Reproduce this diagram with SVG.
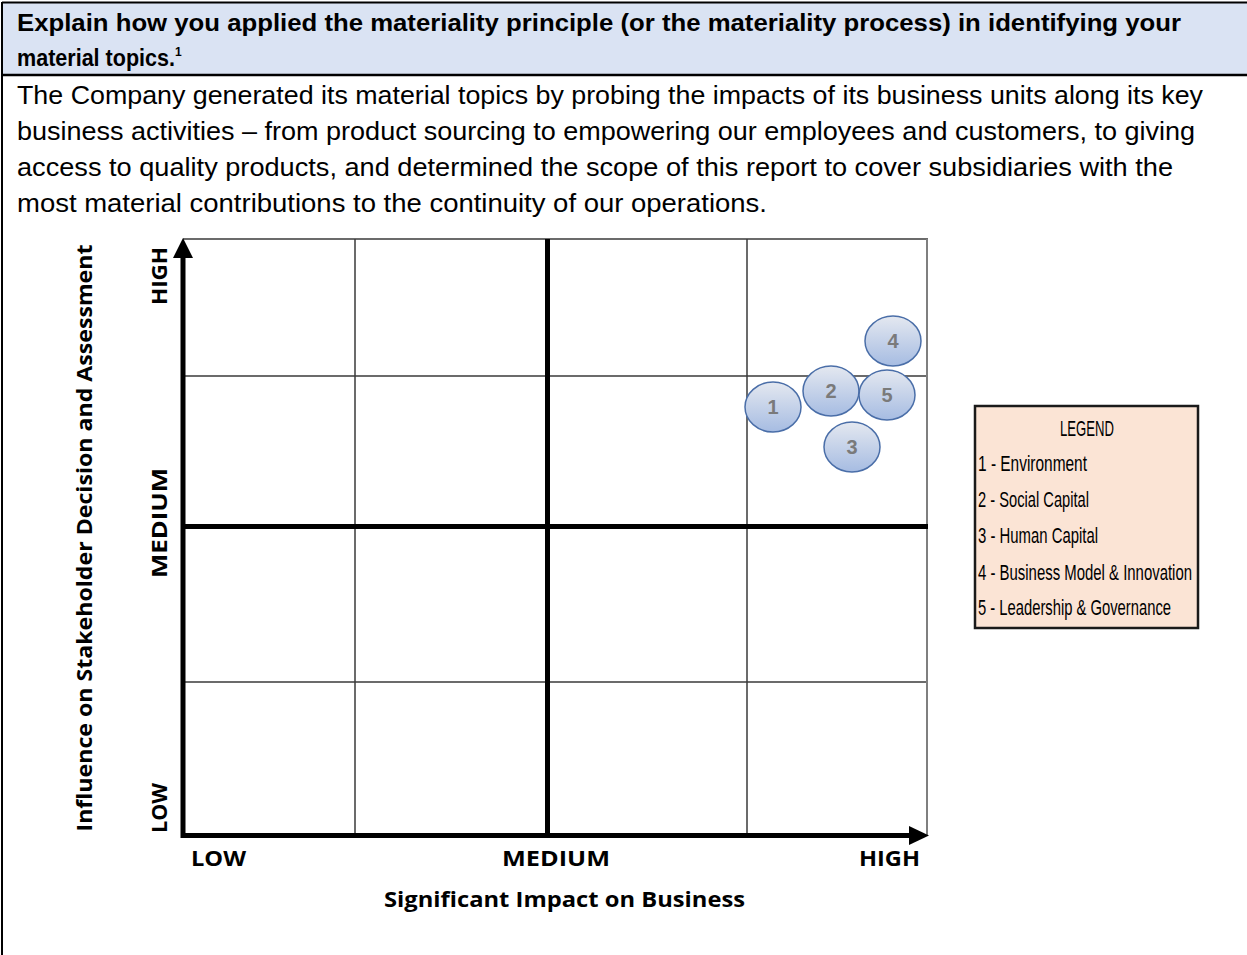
<svg xmlns="http://www.w3.org/2000/svg" width="1247" height="955" viewBox="0 0 1247 955">
<style>
.hdr{font-family:"Liberation Sans",Arial,sans-serif;font-weight:bold;font-size:24px;fill:#000}
.body{font-family:"Liberation Sans",Arial,sans-serif;font-size:25px;fill:#000}
.ax{font-family:"Open Sans","Liberation Sans",sans-serif;font-weight:bold;font-size:21px;fill:#000}
.grid{stroke:#3a3a3a;stroke-width:1.5;fill:none}
.thick{stroke:#000;stroke-width:5;fill:none}
.bub{stroke:#4a6ea8;stroke-width:1.5;fill:url(#bg)}
.num{font-family:"Liberation Sans",Arial,sans-serif;font-weight:bold;font-size:20px;fill:#7a7a7a;text-anchor:middle}
.leg{font-family:"Liberation Sans",Arial,sans-serif;font-size:22px;fill:#000}
</style>
<defs>
<linearGradient id="bg" x1="0" y1="0" x2="0" y2="1">
<stop offset="0" stop-color="#e4e8f0"/>
<stop offset="1" stop-color="#a6bce2"/>
</linearGradient>
</defs>
<rect width="1247" height="955" fill="#fff"/>
<g id="header">
<rect x="2" y="2" width="1246" height="72" fill="#dae3f3"/>
<line x1="2" y1="2.5" x2="1247" y2="2.5" stroke="#000" stroke-width="2"/>
<line x1="2" y1="75" x2="1247" y2="75" stroke="#000" stroke-width="2.5"/>
<line x1="2" y1="2" x2="2" y2="955" stroke="#000" stroke-width="2"/>
<text class="hdr" x="17" y="31" textLength="1164" lengthAdjust="spacingAndGlyphs">Explain how you applied the materiality principle (or the materiality process) in identifying your</text>
<text class="hdr" x="17" y="66"><tspan textLength="158" lengthAdjust="spacingAndGlyphs">material topics.</tspan><tspan font-size="12" dy="-10">1</tspan></text>
</g>
<g id="body">
<text class="body" x="17" y="104" textLength="1186" lengthAdjust="spacingAndGlyphs">The Company generated its material topics by probing the impacts of its business units along its key</text>
<text class="body" x="17" y="140" textLength="1178" lengthAdjust="spacingAndGlyphs">business activities – from product sourcing to empowering our employees and customers, to giving</text>
<text class="body" x="17" y="176" textLength="1156" lengthAdjust="spacingAndGlyphs">access to quality products, and determined the scope of this report to cover subsidiaries with the</text>
<text class="body" x="17" y="212" textLength="750" lengthAdjust="spacingAndGlyphs">most material contributions to the continuity of our operations.</text>
</g>
<g id="grid">
<line class="grid" x1="183" y1="239" x2="928" y2="239"/>
<line class="grid" x1="183" y1="376" x2="928" y2="376"/>
<line class="grid" x1="183" y1="682" x2="928" y2="682"/>
<line class="grid" x1="355" y1="239" x2="355" y2="835"/>
<line class="grid" x1="747" y1="239" x2="747" y2="835"/>
<line x1="927" y1="239" x2="927" y2="836" stroke="#7f7f7f" stroke-width="2"/>
<line class="thick" x1="183" y1="526.5" x2="928" y2="526.5"/>
<line class="thick" x1="547.5" y1="239" x2="547.5" y2="835"/>
</g>
<g id="axes">
<line class="thick" x1="183" y1="838" x2="183" y2="254"/>
<polygon points="183,238 173,258 193,258" fill="#000"/>
<line class="thick" x1="181" y1="835.5" x2="912" y2="835.5"/>
<polygon points="929,835.5 909,826 909,845" fill="#000"/>
</g>
<g id="axis-labels">
<text class="ax" transform="translate(92,538) rotate(-90)" text-anchor="middle" textLength="587" lengthAdjust="spacingAndGlyphs">Influence on Stakeholder Decision and Assessment</text>
<text class="ax" transform="translate(167,276) rotate(-90)" text-anchor="middle" textLength="58" lengthAdjust="spacingAndGlyphs">HIGH</text>
<text class="ax" transform="translate(167,523) rotate(-90)" text-anchor="middle" textLength="110" lengthAdjust="spacingAndGlyphs">MEDIUM</text>
<text class="ax" transform="translate(167,808) rotate(-90)" text-anchor="middle" textLength="50" lengthAdjust="spacingAndGlyphs">LOW</text>
<text class="ax" x="191" y="866" textLength="55" lengthAdjust="spacingAndGlyphs">LOW</text>
<text class="ax" x="502" y="866" textLength="108" lengthAdjust="spacingAndGlyphs">MEDIUM</text>
<text class="ax" x="859" y="866" textLength="61" lengthAdjust="spacingAndGlyphs">HIGH</text>
<text class="ax" x="384" y="907" textLength="361" lengthAdjust="spacingAndGlyphs">Significant Impact on Business</text>
</g>
<g id="bubble-4"><ellipse class="bub" cx="893" cy="341" rx="28" ry="25"/><text class="num" x="893" y="348">4</text></g>
<g id="bubble-1"><ellipse class="bub" cx="773" cy="407" rx="28" ry="25"/><text class="num" x="773" y="414">1</text></g>
<g id="bubble-3"><ellipse class="bub" cx="852" cy="447" rx="28" ry="25"/><text class="num" x="852" y="454">3</text></g>
<g id="bubble-2"><ellipse class="bub" cx="831" cy="391" rx="28" ry="25"/><text class="num" x="831" y="398">2</text></g>
<g id="bubble-5"><ellipse class="bub" cx="887" cy="395" rx="28" ry="25"/><text class="num" x="887" y="402">5</text></g>
<g id="legend">
<rect x="975" y="406" width="223" height="222" fill="#fbe4d5" stroke="#1a1a1a" stroke-width="2.5"/>
<text class="leg" x="1087" y="436" text-anchor="middle" textLength="54" lengthAdjust="spacingAndGlyphs">LEGEND</text>
<text class="leg" x="978" y="471" textLength="109" lengthAdjust="spacingAndGlyphs">1 - Environment</text>
<text class="leg" x="978" y="507" textLength="111" lengthAdjust="spacingAndGlyphs">2 - Social Capital</text>
<text class="leg" x="978" y="543" textLength="120" lengthAdjust="spacingAndGlyphs">3 - Human Capital</text>
<text class="leg" x="978" y="580" textLength="214" lengthAdjust="spacingAndGlyphs">4 - Business Model &amp; Innovation</text>
<text class="leg" x="978" y="615" textLength="193" lengthAdjust="spacingAndGlyphs">5 - Leadership &amp; Governance</text>
</g>
</svg>
